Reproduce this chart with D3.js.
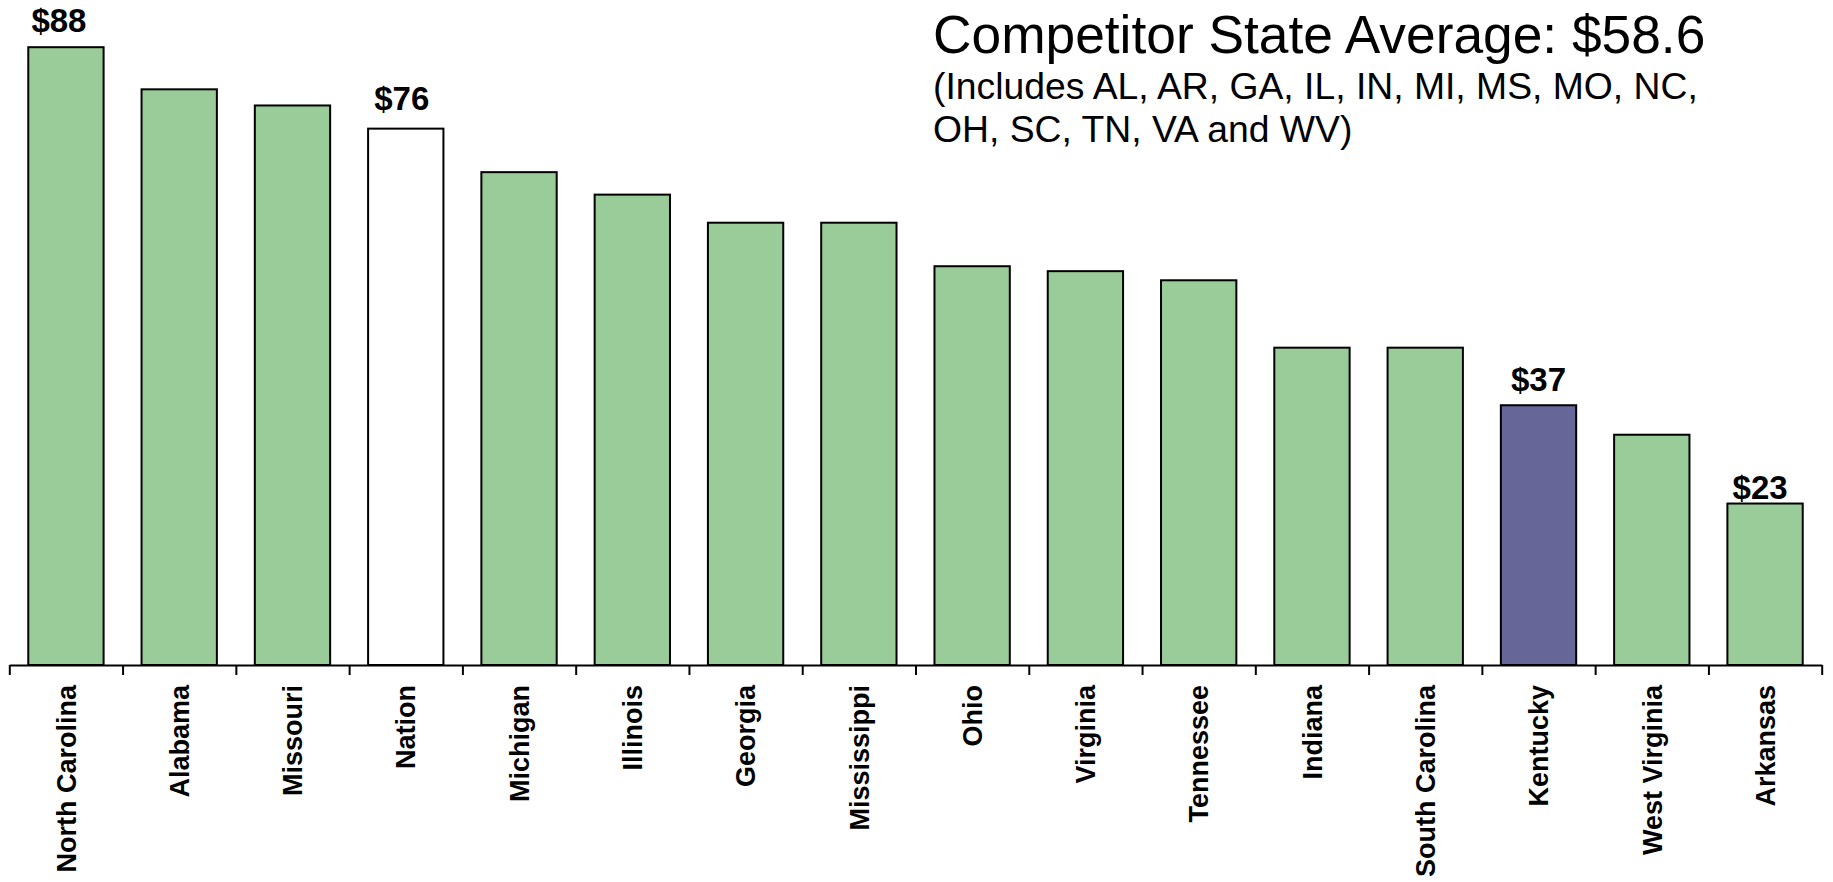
<!DOCTYPE html>
<html>
<head>
<meta charset="utf-8">
<script src="https://cdn.jsdelivr.net/npm/d3@7"></script>
<style>
  html, body { margin: 0; padding: 0; background: #fff; }
  svg { display: block; }
  text { font-family: "Liberation Sans", Arial, sans-serif; }
</style>
</head>
<body>
<svg id="chart" width="1833" height="882"></svg>
<script>
// ---- data ----
const categories = ["North Carolina", "Alabama", "Missouri", "Nation", "Michigan", "Illinois",
  "Georgia", "Mississippi", "Ohio", "Virginia", "Tennessee", "Indiana", "South Carolina",
  "Kentucky", "West Virginia", "Arkansas"];
const values = [88, 82, 79.7, 76.4, 70.2, 67, 63, 63, 56.8, 56.1, 54.8, 45.2, 45.2, 37, 32.8, 23];
const labelledCategories = ["North Carolina", "Nation", "Kentucky", "Arkansas"];
const labelTexts = ["$88", "$76", "$37", "$23"];
const titleText = "Competitor State Average: $58.6";
const subtitleLines = ["(Includes AL, AR, GA, IL, IN, MI, MS, MO, NC,", "OH, SC, TN, VA and WV)"];

// ---- style / layout ----
const colorOf = c => c === "Nation" ? "#ffffff" : (c === "Kentucky" ? "#666699" : "#99cc99");
const labelGap = {"North Carolina": 15, "Nation": 19, "Kentucky": 14, "Arkansas": 5};
const labelShift = {"North Carolina": -7, "Nation": -4, "Kentucky": 0, "Arkansas": -5};
const left = 9.3, right = 1821.7, baseline = 665, topY = 47.2;

const svg = d3.select("#chart");

const x = d3.scaleBand().domain(categories).range([left, right])
  .paddingInner(0.335).paddingOuter(0.1675);
const xEdges = d3.scaleLinear().domain([0, categories.length]).range([left, right]);
const y = d3.scaleLinear().domain([0, 88]).range([baseline, topY]);

// bars
svg.append("g").selectAll("rect")
  .data(categories)
  .join("rect")
  .attr("x", c => x(c))
  .attr("width", x.bandwidth())
  .attr("y", (c, i) => y(values[i]))
  .attr("height", (c, i) => baseline - y(values[i]))
  .attr("fill", c => colorOf(c))
  .attr("stroke", "#000")
  .attr("stroke-width", 2);

// axis line with ticks at band boundaries
const axisG = svg.append("g")
  .attr("transform", `translate(0,${baseline})`)
  .call(d3.axisBottom(xEdges).tickValues(d3.range(categories.length + 1))
    .tickSize(10).tickSizeOuter(0).tickFormat(""));
axisG.select(".domain").attr("stroke", "#000").attr("stroke-width", 2);
axisG.selectAll(".tick line").attr("stroke", "#000").attr("stroke-width", 2);

// category labels
const catAxis = svg.append("g")
  .attr("transform", `translate(0,${baseline})`)
  .call(d3.axisBottom(x).tickSize(0));
catAxis.select(".domain").remove();
catAxis.selectAll(".tick text")
  .attr("transform", "rotate(-90)")
  .attr("x", -20)
  .attr("y", 0)
  .attr("dy", "0.36em")
  .attr("text-anchor", "end")
  .attr("font-family", "'Liberation Sans', Arial, sans-serif")
  .attr("font-size", 27)
  .attr("font-weight", "bold")
  .attr("fill", "#000");

// value labels
svg.append("g").selectAll("text")
  .data(labelledCategories)
  .join("text")
  .attr("x", c => x(c) + x.bandwidth() / 2 + labelShift[c])
  .attr("y", c => y(values[categories.indexOf(c)]) - labelGap[c])
  .attr("text-anchor", "middle")
  .attr("font-size", 33)
  .attr("font-weight", "bold")
  .attr("fill", "#000")
  .text((c, i) => labelTexts[i]);

// title
svg.append("text")
  .attr("x", 933).attr("y", 52.6)
  .attr("font-size", 53.3)
  .attr("fill", "#000")
  .text(titleText);

svg.append("g").selectAll("text")
  .data(subtitleLines)
  .join("text")
  .attr("x", 933)
  .attr("y", (d, i) => 99 + i * 43.3)
  .attr("font-size", 37.3)
  .attr("fill", "#000")
  .text(d => d);
</script>
</body>
</html>
